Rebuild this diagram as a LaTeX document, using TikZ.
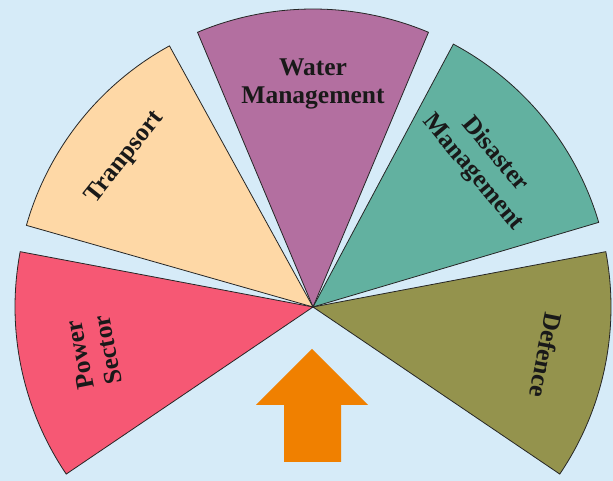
\documentclass[tikz,border=0pt]{standalone}
\usepackage{fontspec}
\setmainfont{Liberation Serif}
\usepackage{tikz}

\definecolor{bgblue}{RGB}{214,235,248}
\definecolor{watercol}{RGB}{179,111,160}
\definecolor{transcol}{RGB}{254,216,166}
\definecolor{disastercol}{RGB}{98,177,160}
\definecolor{powercol}{RGB}{246,88,116}
\definecolor{defencecol}{RGB}{148,147,77}
\definecolor{arrowcol}{RGB}{240,128,0}

\begin{document}
\begin{tikzpicture}[
x=1pt, y=1pt,
sector/.style={draw=black!85, line width=0.8pt, line join=miter},
label/.style={align=center, text=black!90, font=\bfseries\fontsize{25.5}{28.5}\selectfont, inner sep=0pt},
]
\useasboundingbox (0,0) rectangle (613,481);
\fill[bgblue] (0,0) rectangle (613,481);
\coordinate (c) at (313,174);
%Sectors
\draw[sector, fill=watercol] (c) -- ++(67.2:298) arc[start angle=67.2, end angle=112.8, radius=298pt] -- cycle;
\draw[sector, fill=transcol] (c) -- ++(118.8:298) arc[start angle=118.8, end angle=164.1, radius=298pt] -- cycle;
\draw[sector, fill=powercol] (c) -- ++(169.3:298) arc[start angle=169.3, end angle=214.1, radius=298pt] -- cycle;
\draw[sector, fill=disastercol] (c) -- ++(16.5:298) arc[start angle=16.5, end angle=61.9, radius=298pt] -- cycle;
\draw[sector, fill=defencecol] (c) -- ++(-34.1:298) arc[start angle=-34.1, end angle=10.7, radius=298pt] -- cycle;
%Nodes
\node[label] (water) at ([shift={(90:223)}]c) {Water\\Management};
\node[label, rotate=51.5] (transport) at ([shift={(141.5:240)}]c) {Tranpsort};
\node[label, rotate=-50] (disaster) at ([shift={(40:223)}]c) {Disaster\\Management};
\node[label, rotate=-101] (defence) at ([shift={(-11.7:238)}]c) {Defence};
\node[label, rotate=101] (power) at ([shift={(191.7:224)}]c) {Power\\Sector};
%Arrow
\coordinate (tip) at (312,132);
\fill[arrowcol] (tip) -- (368,76) -- (341,76) -- (341,19) -- (284,19) -- (284,76) -- (256,76) -- cycle;
\end{tikzpicture}
\end{document}
